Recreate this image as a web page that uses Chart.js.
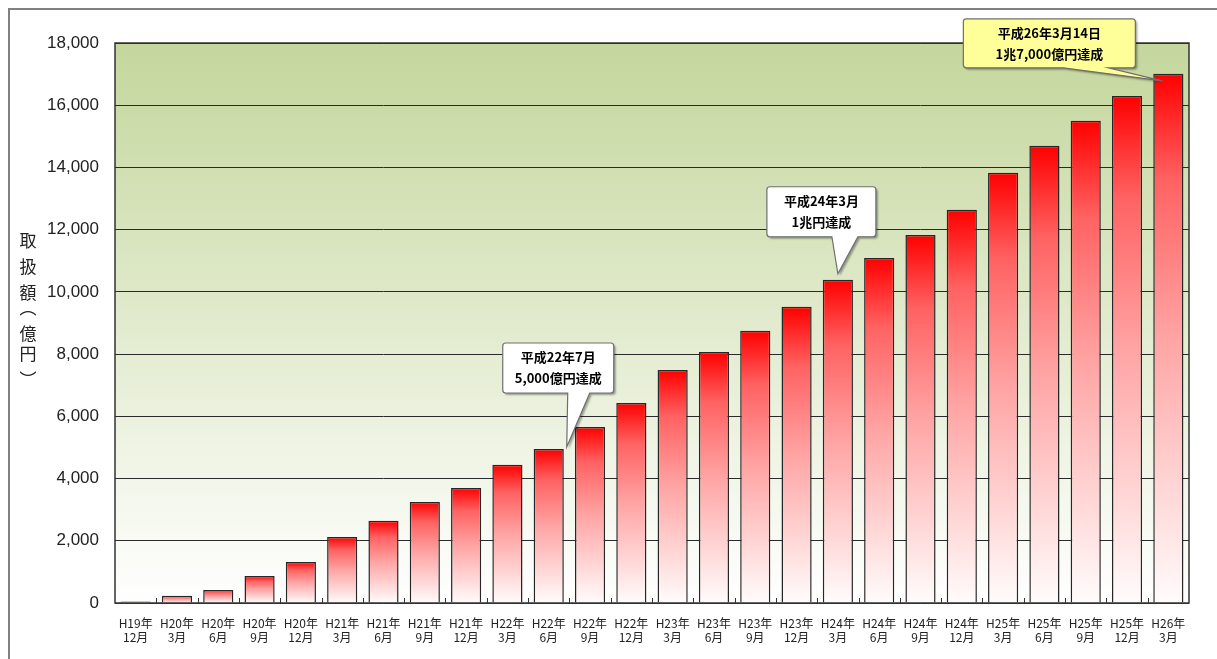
<!DOCTYPE html>
<html lang="ja">
<head>
    <meta charset="UTF-8">
    <title>取扱額の推移</title>
    <script src="https://cdn.jsdelivr.net/npm/chart.js"></script>
    <style>
        html, body {
            margin: 0;
            padding: 0;
            background: #ffffff;
        }
        .chart-container {
            width: 1217px;
            height: 659px;
        }
    </style>
</head>
<body>
    <div class="chart-container">
        <canvas id="amount-chart"></canvas>
    </div>

    <script>
        // Data (億円)
        const yearLabels = ['H19年', 'H20年', 'H20年', 'H20年', 'H20年', 'H21年', 'H21年', 'H21年', 'H21年',
            'H22年', 'H22年', 'H22年', 'H22年', 'H23年', 'H23年', 'H23年', 'H23年', 'H24年', 'H24年',
            'H24年', 'H24年', 'H25年', 'H25年', 'H25年', 'H25年', 'H26年'];
        const monthLabels = ['12月', '3月', '6月', '9月', '12月', '3月', '6月', '9月', '12月',
            '3月', '6月', '9月', '12月', '3月', '6月', '9月', '12月', '3月', '6月',
            '9月', '12月', '3月', '6月', '9月', '12月', '3月'];
        const amounts = [50, 230, 420, 870, 1320, 2120, 2640, 3250, 3700,
            4440, 4950, 5660, 6430, 7490, 8070, 8750, 9520, 10390, 11090,
            11830, 12640, 13830, 14700, 15500, 16300, 17010];
        const yTicks = [0, 2000, 4000, 6000, 8000, 10000, 12000, 14000, 16000, 18000];
        const axisTitle = ['取', '扱', '額', '︵', '億', '円', '︶'];

        // Milestone callouts: bar index and text lines
        const milestones = [
            { index: 10, lines: ['平成22年7月', '5,000億円達成'] },
            { index: 17, lines: ['平成24年3月', '1兆円達成'] },
            { index: 25, lines: ['平成26年3月14日', '1兆7,000億円達成'] }
        ];

        const labels = yearLabels.map((y, i) => [y, monthLabels[i]]);

        // Red-to-white gradient for each bar
        function barGradient(context) {
            const chart = context.chart;
            if (!chart.chartArea || !chart.scales.y) return '#ff0000';
            const y = chart.scales.y;
            const top = y.getPixelForValue(context.raw);
            const bottom = y.getPixelForValue(0);
            if (!(bottom > top)) return '#ff0000';
            const g = chart.ctx.createLinearGradient(0, top, 0, bottom);
            g.addColorStop(0, '#ff0000');
            g.addColorStop(0.2, '#ff6262');
            g.addColorStop(0.5, '#ffa4a4');
            g.addColorStop(0.75, '#ffd0d0');
            g.addColorStop(1, '#fffcfc');
            return g;
        }

        function drawCallout(c, box, base, tip, fill, lines) {
            const r = 3;
            c.save();
            c.beginPath();
            c.moveTo(box.x + r, box.y);
            c.lineTo(box.x + box.w - r, box.y);
            c.quadraticCurveTo(box.x + box.w, box.y, box.x + box.w, box.y + r);
            c.lineTo(box.x + box.w, box.y + box.h - r);
            c.quadraticCurveTo(box.x + box.w, box.y + box.h, box.x + box.w - r, box.y + box.h);
            c.lineTo(base[1], box.y + box.h);
            c.lineTo(tip.x, tip.y);
            c.lineTo(base[0], box.y + box.h);
            c.lineTo(box.x + r, box.y + box.h);
            c.quadraticCurveTo(box.x, box.y + box.h, box.x, box.y + box.h - r);
            c.lineTo(box.x, box.y + r);
            c.quadraticCurveTo(box.x, box.y, box.x + r, box.y);
            c.closePath();
            c.shadowColor = 'rgba(0,0,0,0.35)';
            c.shadowOffsetX = 2;
            c.shadowOffsetY = 2;
            c.shadowBlur = 2;
            c.fillStyle = fill;
            c.fill();
            c.shadowColor = 'transparent';
            c.strokeStyle = '#6e6e6e';
            c.lineWidth = 1.2;
            c.stroke();

            c.fillStyle = '#000000';
            c.font = 'bold 13px "Noto Sans CJK JP"';
            c.textAlign = 'center';
            c.textBaseline = 'middle';
            const cx = box.x + box.w / 2;
            c.fillText(lines[0], cx, box.y + 14);
            c.fillText(lines[1], cx, box.y + 35);
            c.restore();
        }

        const decorPlugin = {
            id: 'decor',
            beforeDraw(chart) {
                const { ctx: c, chartArea: a } = chart;
                const g = c.createLinearGradient(0, a.top, 0, a.bottom);
                g.addColorStop(0, '#c4d69c');
                g.addColorStop(1, '#ffffff');
                c.save();
                c.fillStyle = g;
                c.fillRect(a.left, a.top, a.right - a.left, a.bottom - a.top);
                c.restore();
            },
            afterDraw(chart) {
                const { ctx: c, chartArea: a } = chart;
                const x = chart.scales.x;
                const y = chart.scales.y;
                const step = (a.right - a.left) / labels.length;

                c.save();
                // plot border
                c.strokeStyle = '#333333';
                c.lineWidth = 1.5;
                c.strokeRect(a.left, a.top, a.right - a.left, a.bottom - a.top);

                // small category ticks inside the plot
                c.lineWidth = 1;
                c.beginPath();
                for (let i = 1; i < labels.length; i++) {
                    const px = Math.round(x.getPixelForValue(i) - step / 2) + 0.5;
                    c.moveTo(px, a.bottom);
                    c.lineTo(px, a.bottom - 5);
                }
                c.stroke();

                // outer frame
                c.strokeStyle = '#808080';
                c.lineWidth = 2;
                c.beginPath();
                c.moveTo(9, chart.height);
                c.lineTo(9, 9);
                c.lineTo(chart.width, 9);
                c.stroke();

                // vertical axis title, upright characters
                // (the vertical bracket glyphs sit off-centre in the font, so nudge them)
                c.fillStyle = '#222222';
                c.font = '17px "Noto Sans CJK JP"';
                c.textAlign = 'center';
                c.textBaseline = 'middle';
                const ys = [241, 267, 293, 314, 334, 354, 374];
                axisTitle.forEach((ch, i) => {
                    let dy = 0;
                    if (ch === '︵') dy = -6;
                    if (ch === '︶') dy = 6;
                    c.fillText(ch, 28, ys[i] + dy);
                });
                c.restore();

                // callouts anchored to the bars
                milestones.forEach((m, k) => {
                    const cx = x.getPixelForValue(m.index);
                    const top = y.getPixelForValue(amounts[m.index]);
                    if (k === 0) {
                        drawCallout(c, { x: cx - 46, y: top - 106, w: 111, h: 50 },
                            [cx + 19, cx + 41], { x: cx + 18, y: top - 2 }, '#ffffff', m.lines);
                    } else if (k === 1) {
                        drawCallout(c, { x: cx - 71, y: top - 93, w: 109, h: 50 },
                            [cx - 6, cx + 20], { x: cx, y: top - 6 }, '#ffffff', m.lines);
                    } else {
                        drawCallout(c, { x: cx - 205, y: top - 55, w: 172, h: 49 },
                            [cx - 105, cx - 60], { x: cx - 6, y: top + 7 }, '#ffff99', m.lines);
                    }
                });
            }
        };

        const ctx = document.getElementById('amount-chart').getContext('2d');
        new Chart(ctx, {
            type: 'bar',
            data: {
                labels: labels,
                datasets: [{
                    label: '取扱額（億円）',
                    data: amounts,
                    backgroundColor: barGradient,
                    borderColor: '#262626',
                    borderWidth: 1.5,
                    barPercentage: 0.73,
                    categoryPercentage: 1.0
                }]
            },
            options: {
                responsive: true,
                maintainAspectRatio: false,
                animation: false,
                layout: {
                    padding: { left: 0, right: 28, top: 43, bottom: 0 }
                },
                plugins: {
                    legend: { display: false },
                    tooltip: { enabled: false }
                },
                scales: {
                    x: {
                        grid: { display: false },
                        border: { display: false },
                        ticks: {
                            color: '#222222',
                            font: { family: '"Noto Sans CJK JP"', size: 12 },
                            lineHeight: 1.4,
                            padding: 5,
                            maxRotation: 0,
                            autoSkip: false
                        },
                        afterFit(scale) { scale.height = 56; }
                    },
                    y: {
                        min: 0,
                        max: 18000,
                        afterBuildTicks(scale) {
                            scale.ticks = yTicks.map(v => ({ value: v }));
                        },
                        grid: {
                            color: '#2a2a2a',
                            lineWidth: 1,
                            drawTicks: false
                        },
                        border: { display: false },
                        ticks: {
                            color: '#222222',
                            font: { family: '"Liberation Sans"', size: 17 },
                            padding: 16,
                            callback: v => v.toLocaleString('en-US')
                        },
                        afterFit(scale) { scale.width = 115; }
                    }
                }
            },
            plugins: [decorPlugin]
        });
    </script>
</body>
</html>
